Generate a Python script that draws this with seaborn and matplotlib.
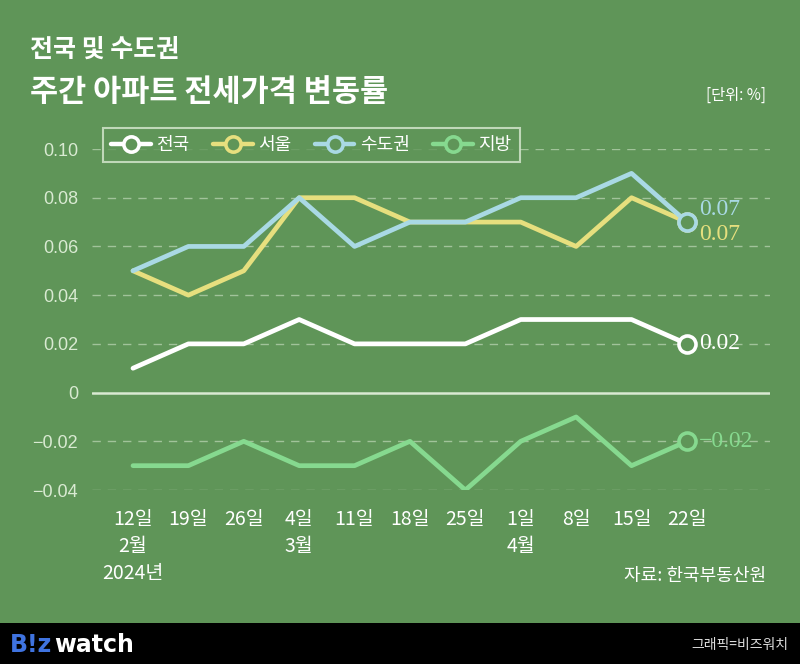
# -*- coding: utf-8 -*-
# 주간 아파트 전세가격 변동률 (전국 및 수도권)

import pandas as pd
import matplotlib.pyplot as plt
from matplotlib.lines import Line2D
import seaborn as sns

# data
weeks = ["12일\n2월\n2024년", "19일", "26일", "4일\n3월", "11일", "18일",
         "25일", "1일\n4월", "8일", "15일", "22일"]
nation = [0.01, 0.02, 0.02, 0.03, 0.02, 0.02, 0.02, 0.03, 0.03, 0.03, 0.02]
seoul = [0.05, 0.04, 0.05, 0.08, 0.08, 0.07, 0.07, 0.07, 0.06, 0.08, 0.07]
capital = [0.05, 0.06, 0.06, 0.08, 0.06, 0.07, 0.07, 0.08, 0.08, 0.09, 0.07]
local = [-0.03, -0.03, -0.02, -0.03, -0.03, -0.02, -0.04, -0.02, -0.01, -0.03, -0.02]
series_names = ["전국", "서울", "수도권", "지방"]
yticks = [-0.04, -0.02, 0, 0.02, 0.04, 0.06, 0.08, 0.10]
ytick_labels = ["−0.04", "−0.02", "0", "0.02", "0.04", "0.06", "0.08", "0.10"]

# style
bg = "#5f9558"
light = "#d9ead2"
colors = {"전국": "#ffffff", "서울": "#e6df7e", "수도권": "#a9d9e4", "지방": "#86d98f"}

sns.set_theme(style="white")
plt.rcParams["font.family"] = ["Noto Sans CJK KR", "DejaVu Sans"]

df = pd.DataFrame({
    "x": list(range(len(weeks))) * 4,
    "value": nation + seoul + capital + local,
    "series": [n for n in series_names for _ in weeks],
})

fig = plt.figure(figsize=(8, 6.64), dpi=100, facecolor=bg)
ax = fig.add_axes([0.115, 0.262, 0.8475, 0.5136])
ax.set_facecolor(bg)

# grid
for y in yticks:
    if y == 0:
        ax.axhline(0, color=light, lw=1.8, zorder=1)
    else:
        ax.axhline(y, color=light, lw=1.0, ls=(0, (6, 5)), alpha=0.55, zorder=1)

sns.lineplot(data=df, x="x", y="value", hue="series", palette=colors,
             hue_order=["지방", "전국", "서울", "수도권"], linewidth=3.4,
             legend=False, ax=ax, zorder=3)

last = df[df["x"] == len(weeks) - 1]
for _, row in last.iterrows():
    ax.scatter(row["x"], row["value"], s=150, facecolor=bg,
               edgecolor=colors[row["series"]], linewidth=2.6, zorder=5)

# end labels
offsets = {"전국": 0.0, "서울": -0.0052, "수도권": 0.0052, "지방": 0.0}
for _, row in last.iterrows():
    s = row["series"]
    ax.text(row["x"] + 0.22, row["value"] + offsets[s], f"{row['value']:.2f}".replace("-", "−"),
            color=colors[s], fontsize=17, va="center", ha="left",
            family=["Liberation Serif", "DejaVu Serif"], zorder=6)

ax.set_xlim(-0.74, 11.5)
ax.set_ylim(-0.04, 0.10)
ax.set_xticks(range(len(weeks)))
ax.set_xticklabels(weeks, fontsize=14, color="white", linespacing=1.35)
ax.set_yticks(yticks)
ax.set_yticklabels(ytick_labels, fontsize=13, color=light,
                   family=["Liberation Sans", "DejaVu Sans"])
ax.tick_params(axis="x", length=8, width=1, color=light, direction="out", pad=6)
ax.tick_params(axis="y", length=0, pad=10)
ax.set_xlabel("")
ax.set_ylabel("")
for sp in ax.spines.values():
    sp.set_visible(False)

# legend
handles = [Line2D([0], [0], color=colors[n], lw=3.2, marker="o", markersize=11,
                  markerfacecolor=bg, markeredgecolor=colors[n], markeredgewidth=2.6)
           for n in series_names]
leg = ax.legend(handles, series_names, loc="upper left", bbox_to_anchor=(0.016, 1.062),
                ncol=4, frameon=True, fontsize=13, handlelength=2.2, numpoints=1,
                columnspacing=1.3, handletextpad=0.3, borderpad=0.45, borderaxespad=0,
                fancybox=False)
leg.get_frame().set_facecolor(bg)
leg.get_frame().set_edgecolor(light)
leg.get_frame().set_linewidth(1.5)
for t in leg.get_texts():
    t.set_color("white")

# titles
fig.text(0.038, 0.925, "전국 및 수도권", fontsize=18, fontweight="bold", color="white", va="center")
fig.text(0.038, 0.862, "주간 아파트 전세가격 변동률", fontsize=22, fontweight="bold", color="white", va="center")
fig.text(0.958, 0.857, "[단위: %]", fontsize=11, color="white", ha="right", va="center")
fig.text(0.958, 0.133, "자료: 한국부동산원", fontsize=13, color="white", ha="right", va="center")

# bottom bar
bar = fig.add_axes([0, 0, 1, 0.062])
bar.set_facecolor("black")
bar.set_xticks([])
bar.set_yticks([])
for sp in bar.spines.values():
    sp.set_visible(False)
bar.text(0.012, 0.45, "B!z", color="#3f73e0", fontsize=17, fontweight="bold",
         va="center", family=["DejaVu Sans"], transform=bar.transAxes)
bar.text(0.068, 0.45, "watch", color="white", fontsize=17, fontweight="bold",
         va="center", family=["DejaVu Sans"], transform=bar.transAxes)
bar.text(0.985, 0.45, "그래픽=비즈워치", color="#dddddd", fontsize=10,
         ha="right", va="center", transform=bar.transAxes)

fig.savefig("out.png", dpi=100, facecolor=bg)
